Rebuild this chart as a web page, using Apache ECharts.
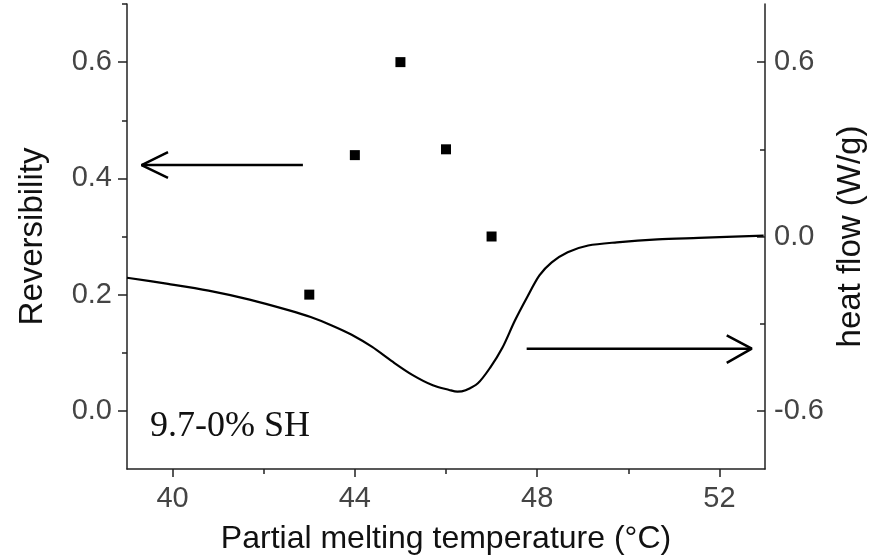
<!DOCTYPE html>
<html>
<head>
<meta charset="utf-8">
<script src="https://cdn.jsdelivr.net/npm/echarts@6/dist/echarts.min.js"></script>
<style>
  html, body { margin: 0; padding: 0; background: #fff; }
  #main { width: 872px; height: 558px; }
</style>
</head>
<body>
<div id="main"></div>
<script>
// reversibility points (left axis)
const tempPoints = [43, 44, 45, 46, 47];
const reversibility = [0.2, 0.44, 0.6, 0.45, 0.3];

// DSC heat flow trace (right axis)
const flowTemp = [39.0, 39.9, 40.79, 41.69, 42.58, 43.03, 43.48, 43.93, 44.38, 44.82,
  45.27, 45.71, 46.07, 46.25, 46.43, 46.7, 46.97, 47.24, 47.51, 47.78, 48.05,
  48.32, 48.67, 49.12, 49.75, 50.64, 51.54, 52.97];
const heatFlow = [-0.142, -0.163, -0.186, -0.217, -0.255, -0.277, -0.305, -0.338, -0.38, -0.43,
  -0.477, -0.512, -0.528, -0.534, -0.529, -0.505, -0.451, -0.382, -0.29, -0.209, -0.134,
  -0.089, -0.054, -0.031, -0.02, -0.01, -0.005, 0.003];

// tick values
const xTicks = [40, 44, 48, 52];
const xMinorTicks = [42, 46, 50];
const leftTicks = [0, 0.2, 0.4, 0.6];
const leftMinorTicks = [0.1, 0.3, 0.5, 0.7];
const rightTicks = [-0.6, 0, 0.6];
const rightMinorTicks = [-0.3, 0.3];

// arrows pointing to the axis each data set belongs to
const leftArrowShaft = [[42.86, 0.423], [39.32, 0.423]];
const leftArrowHead = [[39.9, 0.445], [39.32, 0.423], [39.9, 0.401]];
const rightArrowShaft = [[47.77, -0.386], [52.71, -0.386]];
const rightArrowHead = [[52.16, -0.34], [52.71, -0.386], [52.16, -0.435]];

const sansFont = "Liberation Sans, Arial, sans-serif";
const axisColor = "#222";

const chart = echarts.init(document.getElementById("main"));

function arrowSeries(data, yIndex) {
  return {
    type: "line",
    yAxisIndex: yIndex,
    data: data,
    symbol: "none",
    silent: true,
    lineStyle: { color: "#000", width: 2.5 },
  };
}

// axis carrying only the short minor ticks
function minorAxis(position, min, max, ticks, inside) {
  return {
    type: "value",
    position: position,
    min: min,
    max: max,
    axisLine: { show: false, onZero: false },
    axisTick: { show: true, inside: inside, customValues: ticks, length: 5, lineStyle: { color: axisColor, width: 1.5 } },
    axisLabel: { show: false },
    splitLine: { show: false },
  };
}

chart.setOption({
  animation: false,
  grid: { left: 127, right: 107, top: 4, bottom: 89, outerBoundsMode: "none" },
  xAxis: [
    {
      type: "value",
      min: 39,
      max: 53,
      name: "Partial melting temperature (°C)",
      nameLocation: "middle",
      nameGap: 54,
      nameTextStyle: { fontFamily: sansFont, fontSize: 32, color: "#111" },
      axisLine: { show: true, onZero: false, lineStyle: { color: axisColor, width: 1.5 } },
      axisTick: { show: true, customValues: xTicks, length: 8, lineStyle: { color: axisColor, width: 1.5 } },
      axisLabel: { customValues: xTicks, margin: 15, fontFamily: sansFont, fontSize: 29, color: "#444" },
      splitLine: { show: false },
    },
    minorAxis("bottom", 39, 53, xMinorTicks, false),
  ],
  yAxis: [
    {
      type: "value",
      position: "left",
      min: -0.1,
      max: 0.7,
      name: "Reversibility",
      nameLocation: "middle",
      nameGap: 78,
      nameTextStyle: { fontFamily: sansFont, fontSize: 33, color: "#111" },
      axisLine: { show: true, onZero: false, lineStyle: { color: axisColor, width: 1.5 } },
      axisTick: { show: true, customValues: leftTicks, length: 9, lineStyle: { color: axisColor, width: 1.5 } },
      axisLabel: {
        customValues: leftTicks,
        margin: 15,
        fontFamily: sansFont,
        fontSize: 29,
        color: "#444",
        formatter: (v) => v.toFixed(1),
      },
      splitLine: { show: false },
    },
    {
      type: "value",
      position: "right",
      min: -0.8,
      max: 0.8,
      name: "heat flow (W/g)",
      nameLocation: "middle",
      nameGap: 68,
      nameRotate: 90,
      nameTextStyle: { fontFamily: sansFont, fontSize: 33, color: "#111" },
      axisLine: { show: true, onZero: false, lineStyle: { color: axisColor, width: 1.5 } },
      axisTick: { show: true, inside: true, customValues: rightTicks, length: 8, lineStyle: { color: axisColor, width: 1.5 } },
      axisLabel: {
        customValues: rightTicks,
        margin: 9,
        fontFamily: sansFont,
        fontSize: 29,
        color: "#444",
        formatter: (v) => v.toFixed(1),
      },
      splitLine: { show: false },
    },
    minorAxis("left", -0.1, 0.7, leftMinorTicks, false),
    minorAxis("right", -0.8, 0.8, rightMinorTicks, true),
  ],
  graphic: [
    {
      type: "text",
      left: 150,
      top: 409,
      style: {
        text: "9.7-0% SH",
        fontFamily: "Liberation Serif, Times New Roman, serif",
        fontSize: 36,
        fill: "#111",
      },
    },
  ],
  series: [
    {
      name: "heat flow",
      type: "line",
      yAxisIndex: 1,
      data: flowTemp.map((t, i) => [t, heatFlow[i]]),
      symbol: "none",
      smooth: 0.3,
      lineStyle: { color: "#000", width: 2.2 },
    },
    {
      name: "reversibility",
      type: "scatter",
      yAxisIndex: 0,
      data: tempPoints.map((t, i) => [t, reversibility[i]]),
      symbol: "rect",
      symbolSize: 10,
      itemStyle: { color: "#000", opacity: 1 },
    },
    arrowSeries(leftArrowShaft, 0),
    arrowSeries(leftArrowHead, 0),
    arrowSeries(rightArrowShaft, 1),
    arrowSeries(rightArrowHead, 1),
  ],
});

window.onresize = function () {
  chart.resize();
};
</script>
</body>
</html>
